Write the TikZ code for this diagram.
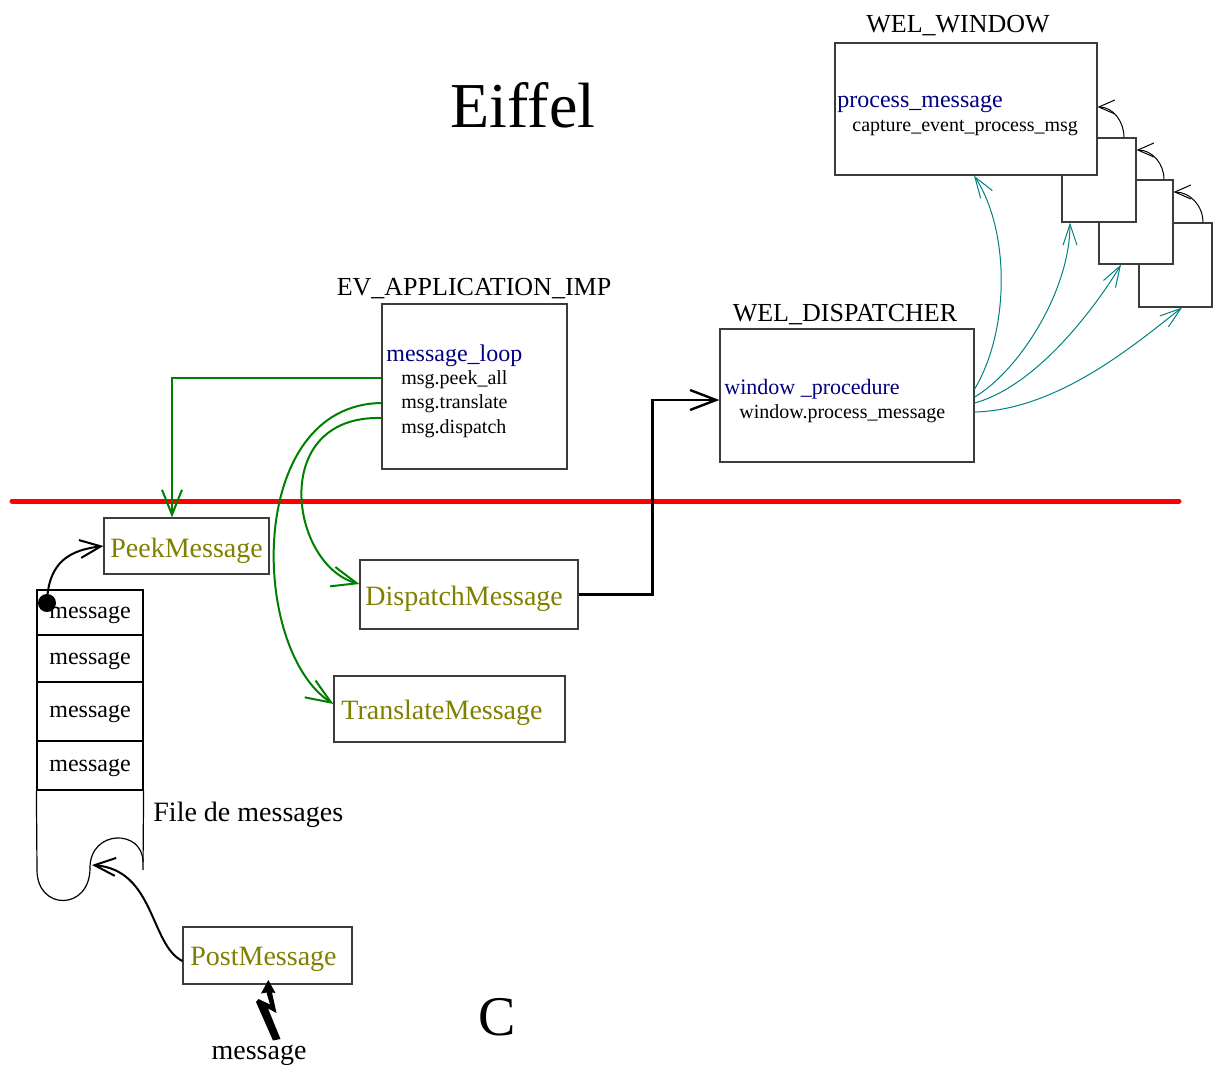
\documentclass[tikz,border=0pt]{standalone}
\usepackage{fontspec}
\setmainfont{Liberation Serif}
\usetikzlibrary{arrows.meta}
\definecolor{hdrblue}{RGB}{0,0,128}
\definecolor{apiolive}{RGB}{128,128,0}
\definecolor{loopgreen}{RGB}{0,128,0}
\definecolor{callteal}{RGB}{0,128,128}
\definecolor{frame}{RGB}{60,60,60}
\begin{document}
\begin{tikzpicture}[x=0.5pt,y=-0.5pt,
  box/.style={draw=frame, line width=0.6pt, fill=white, inner sep=0pt},
  cls/.style={font=\fontsize{13}{15}\selectfont, inner sep=0pt, yshift=-1.5pt},
  feat/.style={font=\fontsize{12}{14}\selectfont, text=hdrblue, anchor=west, inner sep=0pt, yshift=-1.75pt},
  instr/.style={font=\fontsize{10}{12}\selectfont, anchor=west, inner sep=0pt, yshift=-1.5pt},
  api/.style={font=\fontsize{14}{16}\selectfont, text=apiolive, anchor=west, inner sep=0pt, yshift=-1.5pt},
  cell/.style={draw=black, line width=0.6pt, minimum width=53pt, inner sep=0pt, text depth=0pt, font=\fontsize{12}{14}\selectfont},
  big/.style={font=\fontsize{14}{16}\selectfont, inner sep=0pt},
  gflow/.style={draw=loopgreen, line width=1pt, -{Straight Barb[length=12.5pt,width=10pt]}},
  callarrow/.style={draw=black, line width=1.2pt, -{Straight Barb[length=13pt,width=10pt]}},
  pick/.style={draw=black, line width=1pt, -{Straight Barb[length=10.5pt,width=9pt]}},
  tealarrow/.style={draw=callteal, line width=0.5pt, -{Straight Barb[length=10.5pt,width=7pt]}},
  loop/.style={draw=black, line width=0.5pt, -{Straight Barb[length=8pt,width=7pt]}}
]
\useasboundingbox (0,0) rectangle (1220,1066);

% titles of the two worlds
\node[font=\fontsize{32}{36}\selectfont, inner sep=0pt] (eiffel) at (523,105) {Eiffel};
\node[font=\fontsize{28}{32}\selectfont, inner sep=0pt] (cside) at (497,1017) {C};

% separation between Eiffel and C
\coordinate (sepL) at (12,501);
\coordinate (sepR) at (1179,501);
\draw[red, line width=2.5pt, line cap=round] (sepL) -- (sepR);

% stack of windows (back to front)
\node[box, minimum width=36.5pt, minimum height=42pt] (win4) at (1175.5,265) {};
\node[box, minimum width=37pt, minimum height=42pt] (win3) at (1136,222) {};
\node[box, minimum width=37pt, minimum height=42pt] (win2) at (1099,180) {};
\node[box, minimum width=131pt, minimum height=66pt] (win1) at (966,109) {};
\node[cls] (winlbl) at (958,23) {WEL\_WINDOW};
\node[feat] (pm) at (837,100) {process\_message};
\node[instr] (cep) at (852,125) {capture\_event\_process\_msg};

\draw[loop] ([xshift=12.5pt]win2.north) to[out=90,in=0] ([yshift=1pt]win1.east);
\draw[loop] ([xshift=14pt]win3.north) to[out=90,in=0] ([yshift=15pt]win2.east);
\draw[loop] ([xshift=13.75pt]win4.north) to[out=90,in=0] ([yshift=15pt]win3.east);

% dispatcher
\node[box, minimum width=127pt, minimum height=66.5pt] (disp) at (847,395.5) {};
\node[cls] (displbl) at (845,312) {WEL\_DISPATCHER};
\node[feat, font=\fontsize{11}{13}\selectfont] (wp) at (724,386) {window \_procedure};
\node[instr] (wpm) at (739,411) {window.process\_message};

\draw[tealarrow] ([yshift=3.25pt]disp.east) .. controls (1010,330) and (1010,230) .. ([xshift=4pt]win1.south);
\draw[tealarrow] ([yshift=-0.75pt]disp.east) .. controls (1020,370) and (1070,290) .. ([xshift=-14.5pt]win2.south);
\draw[tealarrow] ([yshift=-3.75pt]disp.east) .. controls (1040,385) and (1100,300) .. ([xshift=-7.5pt]win3.south);
\draw[tealarrow] ([yshift=-8.25pt]disp.east) .. controls (1060,410) and (1140,340) .. ([xshift=3.25pt]win4.south);

% application message loop
\node[box, minimum width=92.5pt, minimum height=82.5pt] (app) at (474.5,386.5) {};
\node[cls] (applbl) at (474,286) {EV\_APPLICATION\_IMP};
\node[feat] (ml) at (386,352) {message\_loop};
\node[instr] (pk) at (401,377) {msg.peek\_all};
\node[instr] (tr) at (401,401) {msg.translate};
\node[instr] (dp) at (401,426) {msg.dispatch};

% Win32 API calls
\node[box, minimum width=82.5pt, minimum height=28pt] (peek) at (186.5,546) {};
\node[api] (peektxt) at (110,548) {PeekMessage};
\node[box, minimum width=109pt, minimum height=34.5pt] (dispm) at (469,594.5) {};
\node[api] (disptxt) at (365,596) {DispatchMessage};
\node[box, minimum width=115.5pt, minimum height=33pt] (trans) at (449.5,709) {};
\node[api] (transtxt) at (341,710) {TranslateMessage};
\node[box, minimum width=84.5pt, minimum height=28.5pt] (post) at (267.5,955.5) {};
\node[api] (posttxt) at (190,956) {PostMessage};

\draw[gflow] ([yshift=4.25pt]app.west) -| ([xshift=-7.25pt]peek.north);
\draw[gflow] ([yshift=-8.25pt]app.west) .. controls (245,405) and (250,650) .. ([yshift=2.5pt]trans.west);
\draw[gflow] ([yshift=-15.75pt]app.west) .. controls (268,415) and (290,565) .. ([yshift=5.25pt]dispm.west);
\draw[callarrow] (dispm.east) -- ++(74,0) |- ([yshift=-2.25pt]disp.west);

% message queue
\node[cell, minimum height=22.5pt] (q1) at (90,612.5) {message};
\node[cell, minimum height=23.5pt] (q2) at (90,658.5) {message};
\node[cell, minimum height=29.5pt] (q3) at (90,711.5) {message};
\node[cell, minimum height=24.5pt] (q4) at (90,765.5) {message};
\draw[line width=0.6pt] (q4.south west) -- (37,870)
  .. controls (37,911) and (90,911) .. (90,868)
  .. controls (90,829) and (143,829) .. (143,862);
\draw[line width=0.6pt] (q4.south east) -- (143,870);
\coordinate (qin) at (92,865);
\node[big, anchor=west, yshift=-1.5pt] (filelbl) at (153,812) {File de messages};

\node[circle, fill=black, minimum size=9pt, inner sep=0pt] (dot) at (47,603) {};
\draw[pick] (dot.center) .. controls (48,560) and (72,550) .. (peek.west);
\draw[pick] ([yshift=-2.75pt]post.west) .. controls (150,945) and (155,870) .. (qin);

% incoming message
\fill[black] (268.3,980) -- (275.5,993) -- (272,992.5) -- (276.5,1013) -- (268,1008.5)
  -- (280.5,1039) -- (273,1040.5) -- (256,1002) -- (258.5,999) -- (270,1004.5)
  -- (266.5,992.5) -- (261,993.5) -- cycle;
\node[big, yshift=-2.5pt] (inmsg) at (259,1050) {message};
\end{tikzpicture}
\end{document}
